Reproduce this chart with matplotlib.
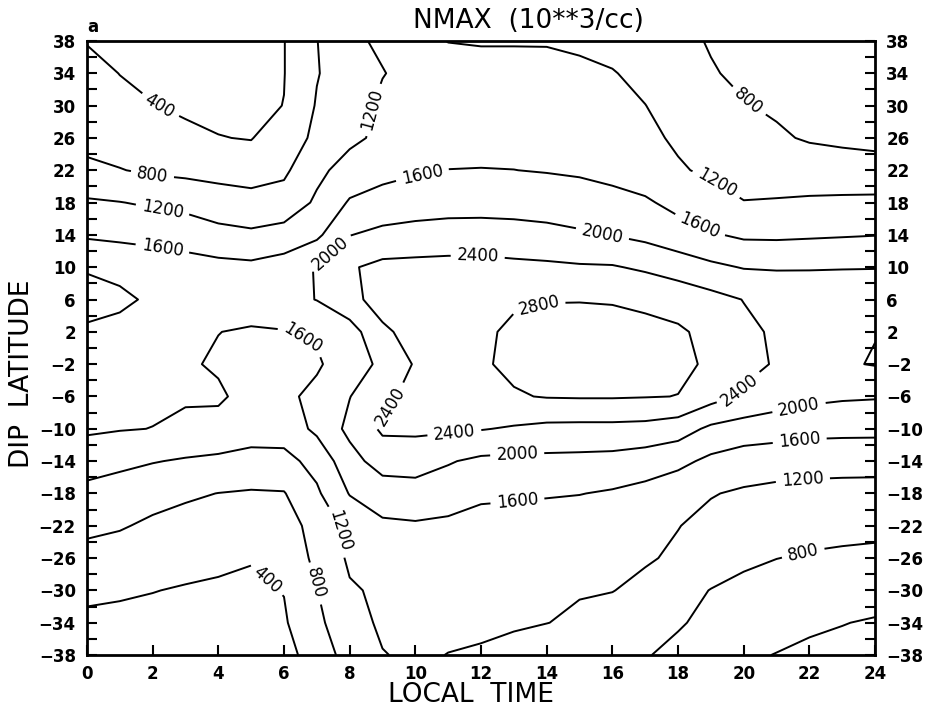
import numpy as np
import matplotlib
matplotlib.use('Agg')
from matplotlib import pyplot as plt
from matplotlib.ticker import MultipleLocator

# grid: local time (hours) across, dip latitude (deg) down, NMAX in 10**3/cc
local_time = list(range(0, 25))
dip_lat = [38, 34, 30, 26, 22, 18, 14, 10, 6, 2, -2, -6, -10, -14, -18, -22, -26, -30, -34, -38]

nmax_n38 = [385, 330, 300, 290, 280, 290, 390, 790, 1150, 1240, 1270, 1195, 1180, 1180, 1180, 1150, 1080, 950, 870, 780, 720, 680, 650, 630, 620]
nmax_n34 = [500, 395, 330, 300, 290, 300, 390, 780, 1000, 1190, 1280, 1300, 1300, 1300, 1290, 1260, 1220, 1100, 950, 820, 750, 710, 680, 660, 650]
nmax_n30 = [611, 480, 410, 350, 320, 330, 405, 830, 1080, 1250, 1330, 1380, 1400, 1400, 1390, 1350, 1280, 1205, 1050, 920, 815, 760, 720, 700, 690]
nmax_n26 = [700, 620, 540, 470, 410, 385, 600, 880, 1120, 1280, 1380, 1450, 1480, 1480, 1470, 1430, 1350, 1260, 1160, 1020, 920, 840, 770, 740, 730]
nmax_n22 = [870, 815, 740, 700, 660, 600, 730, 1110, 1350, 1480, 1560, 1605, 1610, 1603, 1580, 1550, 1490, 1400, 1230, 1150, 1070, 1010, 970, 940, 900]
nmax_n18 = [1252, 1210, 1150, 1100, 1000, 960, 960, 1260, 1640, 1750, 1800, 1830, 1840, 1840, 1820, 1780, 1720, 1650, 1490, 1330, 1210, 1230, 1260, 1280, 1300]
nmax_n14 = [1548, 1500, 1460, 1400, 1310, 1260, 1350, 1520, 1990, 2100, 2150, 2180, 2180, 2150, 2110, 2050, 1990, 1900, 1760, 1640, 1536, 1530, 1550, 1570, 1590]
nmax_n10 = [1975, 1930, 1850, 1780, 1720, 1690, 1780, 2030, 2360, 2500, 2510, 2520, 2520, 2490, 2470, 2440, 2430, 2340, 2220, 2080, 1980, 1965, 1975, 1985, 1990]
nmax_n06 = [2100, 2050, 1960, 1860, 1800, 1790, 1880, 2010, 2300, 2540, 2620, 2680, 2730, 2770, 2790, 2790, 2780, 2740, 2650, 2530, 2390, 2300, 2230, 2200, 2180]
nmax_n02 = [1960, 1925, 1850, 1720, 1605, 1560, 1580, 1660, 1820, 2340, 2520, 2650, 2760, 2840, 2880, 2900, 2900, 2880, 2850, 2700, 2480, 2350, 2330, 2350, 2390]
nmax_s02 = [1855, 1820, 1760, 1640, 1560, 1480, 1470, 1540, 1860, 2060, 2440, 2620, 2760, 2870, 2920, 2940, 2940, 2920, 2860, 2760, 2500, 2370, 2330, 2360, 2420]
nmax_s06 = [1743, 1700, 1660, 1630, 1650, 1480, 1500, 1720, 1990, 2300, 2530, 2600, 2700, 2770, 2820, 2830, 2830, 2815, 2795, 2550, 2345, 2200, 2100, 2050, 2030]
nmax_s10 = [1660, 1620, 1595, 1540, 1480, 1320, 1380, 1680, 2100, 2460, 2470, 2460, 2420, 2360, 2300, 2290, 2290, 2270, 2180, 1920, 1820, 1765, 1710, 1695, 1690]
nmax_s14 = [1363, 1300, 1220, 1160, 1120, 1110, 1080, 1330, 1850, 2180, 2180, 2030, 1920, 1900, 1900, 1890, 1870, 1800, 1700, 1513, 1404, 1378, 1362, 1360, 1360]
nmax_s18 = [1093, 1000, 920, 850, 795, 760, 780, 1140, 1620, 1780, 1830, 1790, 1660, 1650, 1630, 1610, 1560, 1480, 1350, 1220, 1150, 1100, 1070, 1050, 1040]
nmax_s22 = [880, 830, 740, 680, 630, 600, 620, 950, 1310, 1540, 1560, 1520, 1480, 1450, 1430, 1400, 1360, 1300, 1210, 1100, 1030, 980, 940, 920, 900]
nmax_s26 = [682, 640, 590, 530, 470, 415, 560, 880, 1260, 1330, 1380, 1380, 1360, 1340, 1320, 1290, 1250, 1240, 1140, 980, 880, 805, 760, 730, 710]
nmax_s30 = [494, 450, 410, 370, 350, 350, 410, 790, 1160, 1260, 1290, 1290, 1280, 1260, 1240, 1220, 1210, 1100, 920, 790, 690, 620, 580, 560, 543]
nmax_s34 = [306, 300, 290, 280, 280, 300, 360, 700, 1100, 1240, 1260, 1260, 1235, 1230, 1205, 1150, 1030, 900, 830, 720, 620, 520, 450, 410, 370]
nmax_s38 = [260, 250, 240, 230, 230, 250, 310, 520, 1000, 1190, 1240, 1195, 1180, 1120, 1000, 940, 880, 820, 720, 600, 450, 390, 340, 310, 300]

levels = [400, 800, 1200, 1600, 2000, 2400, 2800]

nmax = np.array([nmax_n38, nmax_n34, nmax_n30, nmax_n26, nmax_n22, nmax_n18, nmax_n14,
                 nmax_n10, nmax_n06, nmax_n02, nmax_s02, nmax_s06, nmax_s10, nmax_s14,
                 nmax_s18, nmax_s22, nmax_s26, nmax_s30, nmax_s34, nmax_s38], dtype=float)

# where the contour labels sit (LT, lat)
label_spots = [
    (2.2, 29.8), (2.0, 21.6), (2.3, 17.1), (2.3, 12.4), (8.7, 29.5),
    (7.4, 11.8), (10.2, 21.7), (11.9, 11.3), (15.7, 14.2), (13.8, 4.7),
    (19.1, 19.9), (18.7, 15.5), (20.1, 30.3), (6.6, 1.4), (9.2, -7.1),
    (11.2, -11.0), (20.0, -5.6), (21.7, -7.7), (13.1, -13.0), (21.7, -11.3),
    (13.1, -18.6), (21.8, -16.3), (21.8, -25.2), (7.6, -22.7), (7.0, -29.1),
    (5.6, -28.2),
]

fig = plt.figure(figsize=(9.29, 7.14), dpi=100)
ax = fig.add_axes([0.0936, 0.0826, 0.8484, 0.86])

cs = ax.contour(local_time, dip_lat[::-1], nmax[::-1], levels=levels,
                colors='k', linewidths=1.4)
lbls = ax.clabel(cs, manual=label_spots, inline=True, inline_spacing=6,
                 fmt='%d', fontsize=12)
for t in lbls:
    t.set_fontfamily('DejaVu Sans')

ax.set_xlim(0, 24)
ax.set_ylim(-38, 38)
ax.set_xticks(range(0, 25, 2))
ax.set_yticks(range(-38, 39, 4))
ax.yaxis.set_minor_locator(MultipleLocator(2))

ax.tick_params(axis='x', direction='in', length=7.5, width=1.5, pad=7,
               top=False, labelsize=12)
ax.tick_params(axis='y', which='both', direction='in', length=7.5, width=1.5,
               pad=8, left=True, right=True, labelleft=True, labelright=True,
               labelsize=12)
for lab in ax.get_xticklabels() + ax.get_yticklabels():
    lab.set_fontfamily('DejaVu Sans')
    lab.set_fontweight('bold')
for sp in ax.spines.values():
    sp.set_linewidth(2)

thin = dict(family='DejaVu Sans', weight='normal', color='k')
fig.text(0.507, 0.027, 'LOCAL  TIME', ha='center', va='center',
         fontsize=19, **thin)
fig.text(0.0237, 0.476, 'DIP  LATITUDE', ha='center', va='center',
         rotation=90, fontsize=19, **thin)
fig.text(0.569, 0.9706, 'NMAX  (10**3/cc)', ha='center', va='center',
         fontsize=19, **thin)
fig.text(0.100, 0.962, 'a', ha='center', va='center', fontsize=12,
         family='DejaVu Sans', weight='bold')

fig.savefig('out.png', dpi=100)
